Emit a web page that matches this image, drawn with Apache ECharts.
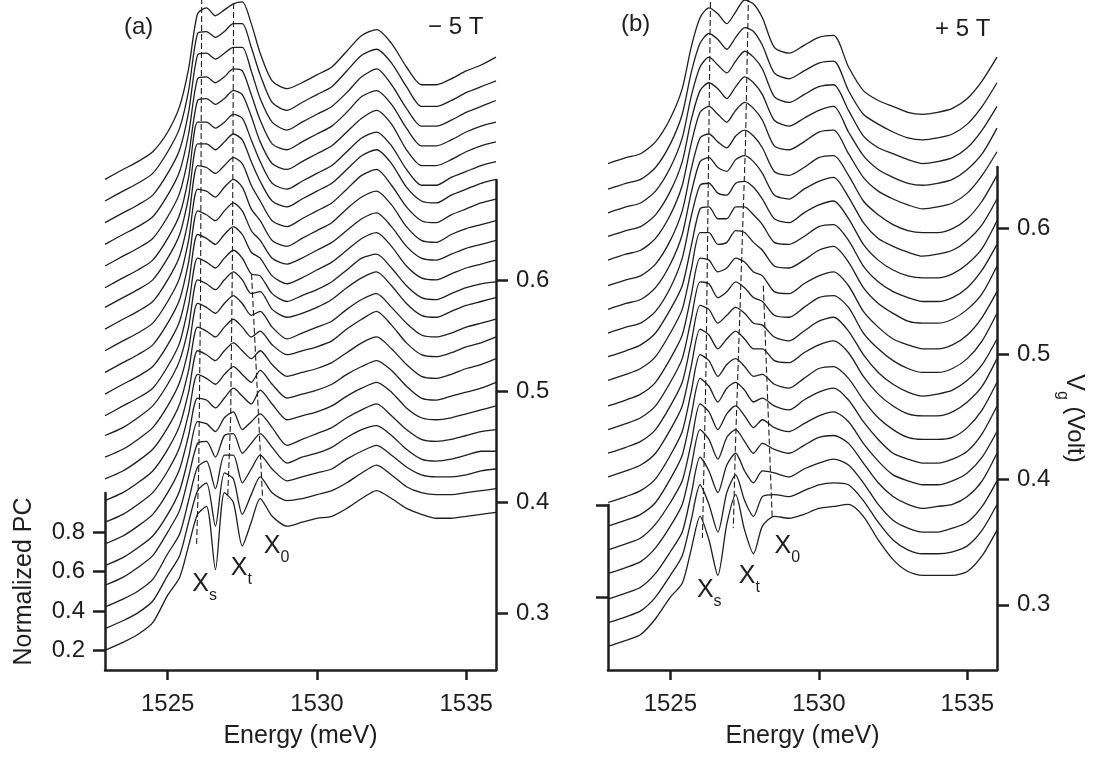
<!DOCTYPE html>
<html>
<head>
<meta charset="utf-8">
<script src="https://cdn.jsdelivr.net/npm/echarts@6/dist/echarts.min.js"></script>
<style>
  html, body { margin: 0; padding: 0; background: #fff; }
  #chart { width: 1111px; height: 758px; }
</style>
</head>
<body>
<div id="chart"></div>
<script>
// energy grid (meV) used for every spectrum
const energy = [1522.9, 1523.5, 1524, 1524.5, 1525, 1525.4, 1525.7, 1526.0, 1526.3, 1526.6, 1526.9, 1527.2, 1527.5, 1527.8, 1528.1, 1528.5, 1529, 1529.5, 1530, 1530.5, 1531, 1531.5, 1532, 1532.5, 1533, 1533.5, 1534, 1534.5, 1535, 1535.5, 1536];

const energyTicks = [1525, 1530, 1535];
const pcTicks = [0.2, 0.4, 0.6, 0.8];
const vgTicks = [0.3, 0.4, 0.5, 0.6];
const pcTicksB = [0.5, 1.0];

// waterfall offsets (normalized PC), bottom curve first
const offsetsA = [0, 0.11, 0.22, 0.33, 0.43, 0.54, 0.65, 0.76, 0.87, 0.98, 1.09, 1.19, 1.30, 1.41, 1.52, 1.63, 1.74, 1.84, 1.95, 2.06, 2.17, 2.28, 2.39];
const offsetsB = [0, 0.12, 0.24, 0.37, 0.49, 0.61, 0.73, 0.86, 0.98, 1.10, 1.22, 1.35, 1.47, 1.59, 1.71, 1.83, 1.96, 2.08, 2.20, 2.32, 2.45];

// panel (a), -5 T : normalized PC spectra
const curvesA = [
  [0.20,0.24,0.28,0.34,0.48,0.57,0.73, 0.89,0.93,0.61,1.00,0.95,0.73,0.85,0.97,0.88, 0.83,0.85,0.87,0.88,0.92,0.97,1.01,0.97,0.92,0.89,0.87,0.87,0.88,0.89,0.90],
  [0.20,0.24,0.28,0.34,0.47,0.57,0.74, 0.90,0.94,0.72,0.99,0.96,0.78,0.88,0.97,0.89, 0.85,0.86,0.88,0.90,0.94,0.99,1.03,0.98,0.92,0.89,0.88,0.88,0.89,0.90,0.91],
  [0.20,0.24,0.28,0.34,0.47,0.57,0.74, 0.91,0.94,0.80,0.97,0.97,0.83,0.90,0.97,0.90, 0.84,0.86,0.88,0.90,0.95,0.99,1.02,0.97,0.91,0.87,0.86,0.86,0.87,0.89,0.90],
  [0.20,0.24,0.29,0.35,0.47,0.58,0.75, 0.92,0.93,0.85,0.96,0.97,0.87,0.92,0.97,0.90, 0.82,0.85,0.87,0.90,0.95,0.99,1.01,0.96,0.89,0.84,0.83,0.84,0.86,0.88,0.88],
  [0.20,0.24,0.29,0.35,0.46,0.58,0.75, 0.93,0.92,0.88,0.95,0.98,0.89,0.93,0.97,0.90, 0.81,0.84,0.87,0.90,0.95,0.99,1.02,0.96,0.89,0.84,0.83,0.84,0.86,0.88,0.89],
  [0.20,0.24,0.29,0.35,0.46,0.58,0.75, 0.94,0.93,0.89,0.94,0.99,0.95,0.91,0.98,0.91, 0.83,0.85,0.87,0.90,0.95,0.99,1.02,0.97,0.89,0.84,0.83,0.84,0.86,0.88,0.90],
  [0.20,0.24,0.29,0.35,0.46,0.58,0.75, 0.95,0.93,0.90,0.95,0.99,0.95,0.91,0.97,0.90, 0.83,0.85,0.87,0.90,0.95,0.99,1.02,0.97,0.89,0.83,0.82,0.84,0.86,0.88,0.91],
  [0.20,0.24,0.29,0.35,0.46,0.58,0.75, 0.96,0.94,0.91,0.96,1.00,0.96,0.92,0.96,0.89, 0.83,0.85,0.87,0.90,0.95,1.00,1.03,0.97,0.89,0.83,0.82,0.84,0.87,0.89,0.92],
  [0.20,0.24,0.29,0.35,0.46,0.58,0.75, 0.97,0.95,0.92,0.97,1.01,0.97,0.92,0.95,0.88, 0.83,0.85,0.87,0.90,0.96,1.01,1.05,0.98,0.89,0.83,0.82,0.84,0.87,0.89,0.92],
  [0.20,0.24,0.29,0.35,0.46,0.58,0.75, 0.98,0.96,0.93,0.98,1.02,0.98,0.92,0.94,0.86, 0.80,0.83,0.86,0.89,0.95,1.00,1.03,0.96,0.88,0.82,0.81,0.83,0.86,0.88,0.90],
  [0.20,0.24,0.29,0.35,0.46,0.58,0.75, 0.99,0.97,0.94,0.99,1.03,0.99,0.92,0.93,0.84, 0.80,0.82,0.85,0.89,0.95,1.00,1.03,0.96,0.87,0.81,0.80,0.83,0.86,0.88,0.90],
  [0.20,0.25,0.29,0.34,0.45,0.57,0.76, 1.00,0.98,0.95,1.00,1.04,1.00,0.92,0.91,0.82, 0.78,0.81,0.84,0.88,0.94,1.00,1.02,0.95,0.86,0.80,0.79,0.82,0.85,0.87,0.88],
  [0.20,0.25,0.29,0.34,0.45,0.57,0.76, 1.01,0.99,0.96,1.01,1.05,1.01,0.92,0.89,0.80, 0.76,0.79,0.83,0.87,0.93,0.99,1.02,0.95,0.85,0.79,0.78,0.81,0.84,0.86,0.88],
  [0.20,0.25,0.29,0.34,0.45,0.57,0.76, 1.02,1.00,0.97,1.02,1.06,1.02,0.92,0.87,0.78, 0.75,0.78,0.82,0.86,0.92,0.98,1.01,0.94,0.84,0.78,0.77,0.80,0.83,0.85,0.87],
  [0.20,0.25,0.29,0.34,0.45,0.57,0.76, 1.02,1.01,0.98,1.03,1.07,1.03,0.92,0.86,0.76, 0.73,0.77,0.81,0.85,0.92,0.98,1.01,0.94,0.83,0.76,0.75,0.79,0.82,0.84,0.86],
  [0.20,0.25,0.29,0.34,0.45,0.57,0.76, 1.03,1.02,0.99,1.03,1.07,1.04,0.93,0.85,0.75, 0.72,0.76,0.80,0.84,0.91,0.98,1.01,0.93,0.82,0.75,0.74,0.78,0.81,0.84,0.86],
  [0.20,0.25,0.29,0.34,0.45,0.57,0.76, 1.03,1.03,1.00,1.04,1.08,1.05,0.94,0.84,0.74, 0.71,0.75,0.79,0.83,0.90,0.97,1.00,0.93,0.81,0.74,0.73,0.77,0.80,0.83,0.85],
  [0.20,0.25,0.29,0.34,0.45,0.57,0.76, 1.04,1.04,1.01,1.04,1.08,1.06,0.95,0.84,0.73, 0.70,0.74,0.78,0.82,0.89,0.96,0.99,0.92,0.80,0.72,0.72,0.76,0.79,0.82,0.84],
  [0.20,0.25,0.29,0.34,0.45,0.57,0.76, 1.04,1.05,1.02,1.05,1.09,1.07,0.96,0.83,0.72, 0.69,0.73,0.77,0.81,0.88,0.95,0.99,0.92,0.79,0.71,0.71,0.74,0.78,0.81,0.83],
  [0.20,0.25,0.29,0.34,0.45,0.57,0.76, 1.04,1.05,1.02,1.05,1.09,1.08,0.96,0.83,0.71, 0.68,0.72,0.76,0.80,0.87,0.95,0.98,0.91,0.79,0.70,0.70,0.73,0.77,0.80,0.82],
  [0.20,0.25,0.29,0.34,0.45,0.57,0.76, 1.05,1.06,1.03,1.06,1.09,1.09,0.97,0.83,0.71, 0.67,0.71,0.75,0.79,0.86,0.94,0.98,0.90,0.78,0.69,0.69,0.72,0.76,0.79,0.82],
  [0.20,0.25,0.29,0.34,0.45,0.57,0.76, 1.05,1.06,1.03,1.06,1.10,1.10,0.98,0.84,0.70, 0.66,0.70,0.74,0.78,0.86,0.94,0.97,0.90,0.78,0.68,0.68,0.71,0.75,0.78,0.81],
  [0.20,0.25,0.29,0.34,0.44,0.57,0.76, 1.04,1.07,1.03,1.06,1.09,1.10,0.99,0.84,0.70, 0.66,0.69,0.73,0.77,0.85,0.93,0.96,0.89,0.77,0.68,0.68,0.71,0.75,0.78,0.82]
];

// panel (b), +5 T
const curvesB = [
  [0.20,0.23,0.26,0.34,0.45,0.52,0.69, 0.86,0.74,0.56,0.82,0.97,0.79,0.67,0.81,0.86, 0.85,0.87,0.90,0.91, 0.92,0.86,0.74,0.64,0.58,0.56,0.56,0.56,0.58,0.66,0.79],
  [0.20,0.23,0.26,0.33,0.44,0.54,0.72, 0.90,0.80,0.66,0.86,0.95,0.82,0.74,0.84,0.85, 0.84,0.87,0.90,0.91, 0.90,0.82,0.71,0.62,0.57,0.55,0.55,0.56,0.59,0.67,0.80],
  [0.20,0.23,0.26,0.33,0.44,0.54,0.73, 0.92,0.85,0.74,0.88,0.94,0.85,0.79,0.85,0.84, 0.82,0.86,0.89,0.91, 0.88,0.79,0.68,0.60,0.56,0.54,0.54,0.56,0.59,0.67,0.80],
  [0.20,0.23,0.26,0.33,0.44,0.55,0.74, 0.93,0.88,0.78,0.89,0.93,0.87,0.81,0.86,0.83, 0.81,0.85,0.89,0.90, 0.86,0.76,0.66,0.59,0.55,0.53,0.54,0.55,0.59,0.67,0.81],
  [0.20,0.23,0.26,0.33,0.44,0.55,0.74, 0.94,0.90,0.81,0.89,0.93,0.88,0.82,0.86,0.82, 0.80,0.84,0.88,0.90, 0.85,0.74,0.65,0.58,0.55,0.53,0.53,0.55,0.59,0.67,0.80],
  [0.20,0.23,0.26,0.32,0.44,0.56,0.76, 0.95,0.91,0.83,0.90,0.93,0.89,0.83,0.85,0.81, 0.79,0.84,0.88,0.90, 0.84,0.73,0.64,0.57,0.54,0.52,0.52,0.54,0.58,0.67,0.81],
  [0.20,0.23,0.26,0.32,0.44,0.56,0.76, 0.95,0.92,0.84,0.90,0.93,0.89,0.84,0.85,0.80, 0.78,0.83,0.88,0.89, 0.83,0.72,0.63,0.57,0.53,0.52,0.52,0.53,0.58,0.67,0.81],
  [0.20,0.23,0.26,0.32,0.44,0.56,0.76, 0.95,0.92,0.85,0.90,0.94,0.90,0.85,0.85,0.79, 0.78,0.83,0.87,0.89, 0.83,0.71,0.62,0.56,0.52,0.51,0.51,0.53,0.58,0.66,0.80],
  [0.20,0.23,0.26,0.32,0.44,0.56,0.76, 0.95,0.93,0.86,0.90,0.94,0.91,0.86,0.85,0.79, 0.77,0.82,0.87,0.89, 0.82,0.70,0.61,0.55,0.51,0.49,0.50,0.52,0.57,0.65,0.78],
  [0.20,0.23,0.26,0.32,0.44,0.56,0.76, 0.95,0.94,0.87,0.90,0.95,0.92,0.87,0.85,0.78, 0.77,0.82,0.87,0.88, 0.82,0.69,0.61,0.55,0.51,0.49,0.49,0.51,0.56,0.65,0.79],
  [0.20,0.23,0.26,0.32,0.44,0.56,0.76, 0.95,0.94,0.88,0.90,0.95,0.93,0.88,0.86,0.78, 0.77,0.82,0.86,0.88, 0.81,0.68,0.60,0.54,0.51,0.49,0.49,0.51,0.56,0.65,0.78],
  [0.20,0.23,0.26,0.32,0.44,0.56,0.76, 0.95,0.95,0.89,0.90,0.96,0.95,0.90,0.86,0.78, 0.77,0.81,0.86,0.88, 0.80,0.67,0.59,0.54,0.50,0.49,0.49,0.51,0.56,0.64,0.78],
  [0.20,0.23,0.26,0.32,0.44,0.56,0.76, 0.95,0.96,0.90,0.90,0.96,0.96,0.92,0.87,0.78, 0.77,0.81,0.86,0.87, 0.79,0.66,0.58,0.53,0.50,0.48,0.48,0.50,0.55,0.64,0.77],
  [0.20,0.23,0.25,0.31,0.43,0.58,0.79, 0.95,0.96,0.91,0.90,0.96,0.97,0.94,0.88,0.78, 0.76,0.81,0.85,0.87, 0.78,0.65,0.57,0.52,0.49,0.48,0.48,0.50,0.55,0.63,0.77],
  [0.20,0.23,0.25,0.31,0.43,0.58,0.79, 0.95,0.97,0.92,0.90,0.96,0.98,0.95,0.89,0.78, 0.76,0.81,0.85,0.87, 0.77,0.64,0.56,0.52,0.49,0.47,0.48,0.50,0.55,0.63,0.76],
  [0.20,0.23,0.25,0.31,0.43,0.58,0.79, 0.95,0.97,0.93,0.90,0.96,0.99,0.96,0.90,0.78, 0.76,0.80,0.85,0.86, 0.76,0.63,0.56,0.51,0.48,0.47,0.47,0.49,0.54,0.63,0.76],
  [0.20,0.23,0.25,0.31,0.43,0.58,0.79, 0.95,0.98,0.94,0.90,0.96,1.00,0.97,0.91,0.78, 0.76,0.80,0.85,0.86, 0.74,0.62,0.55,0.51,0.48,0.46,0.47,0.49,0.54,0.63,0.75],
  [0.20,0.23,0.25,0.31,0.43,0.58,0.79, 0.94,0.98,0.95,0.90,0.96,1.01,0.98,0.92,0.79, 0.76,0.80,0.84,0.86, 0.73,0.61,0.54,0.50,0.47,0.46,0.47,0.49,0.54,0.62,0.75],
  [0.20,0.23,0.25,0.31,0.43,0.58,0.79, 0.94,0.99,0.95,0.91,0.97,1.02,0.99,0.93,0.79, 0.76,0.80,0.84,0.85, 0.72,0.59,0.53,0.50,0.47,0.45,0.46,0.48,0.53,0.62,0.74],
  [0.20,0.23,0.25,0.31,0.43,0.58,0.79, 0.94,0.99,0.96,0.91,0.97,1.02,1.00,0.93,0.79, 0.76,0.80,0.84,0.85, 0.70,0.58,0.53,0.49,0.46,0.45,0.46,0.48,0.53,0.62,0.74],
  [0.20,0.23,0.25,0.31,0.43,0.58,0.79, 0.94,0.99,0.96,0.91,0.97,1.03,1.01,0.94,0.79, 0.76,0.80,0.84,0.85, 0.69,0.57,0.52,0.49,0.46,0.45,0.46,0.48,0.53,0.62,0.74]
];

// dashed guide lines (energy, plotted value)
const dashAsE = [1526.14, 1526.10, 1526.04, 1525.97];
const dashAsV = [3.51, 1.99, 1.12, 0.74];
const dashAtE = [1527.21, 1527.17, 1527.11, 1527.01];
const dashAtV = [3.53, 2.20, 1.38, 0.97];
const dashA0E = [1527.81, 1528.18];
const dashA0V = [2.11, 0.97];
const dashBsE = [1526.35, 1526.20, 1526.08];
const dashBsV = [3.47, 1.60, 0.75];
const dashBtE = [1527.63, 1527.53, 1527.36, 1527.19, 1527.12];
const dashBtV = [3.50, 2.75, 1.98, 1.21, 0.80];
const dashB0E = [1528.13, 1528.43];
const dashB0V = [2.03, 0.85];

// peak labels X_s, X_t, X_0
const peakSubs = ['s', 't', '0'];
const peakAE = [1526.24, 1527.47, 1528.65];
const peakAV = [0.52, 0.60, 0.71];
const peakBE = [1526.31, 1527.66, 1528.94];
const peakBV = [0.47, 0.54, 0.69];

const ink = '#1e1e1e';
const font = '"Liberation Sans", Arial, sans-serif';

const chart = echarts.init(document.getElementById('chart'));

const zip = (xs, ys) => xs.map((x, k) => [x, ys[k]]);

function hiddenX(gridIndex) {
  return { type: 'value', gridIndex: gridIndex, min: 1522.9, max: 1536, show: false };
}

function energyAxis(gridIndex) {
  return {
    type: 'value', gridIndex: gridIndex, min: 1522.9, max: 1536,
    axisLine: { show: true, onZero: false, lineStyle: { color: ink, width: 2.5 } },
    axisTick: { show: true, customValues: energyTicks, length: 10, lineStyle: { color: ink, width: 2.5 } },
    axisLabel: { customValues: energyTicks, fontSize: 24, color: ink, margin: 22, fontFamily: font,
      formatter: v => String(v) },
    splitLine: { show: false },
    name: 'Energy (meV)', nameLocation: 'middle', nameGap: 54,
    nameTextStyle: { fontSize: 25, color: ink, fontFamily: font }
  };
}

function sideAxis(gridIndex, pos, min, max, ticks, showLabels) {
  return {
    type: 'value', gridIndex: gridIndex, position: pos, min: min, max: max,
    axisLine: { show: true, onZero: false, lineStyle: { color: ink, width: 2.5 } },
    axisTick: { show: true, customValues: ticks, length: 12, lineStyle: { color: ink, width: 2.5 } },
    axisLabel: {
      show: showLabels, customValues: ticks, fontSize: 24, color: ink, margin: 20, fontFamily: font,
      formatter: v => v.toFixed(1)
    },
    splitLine: { show: false }
  };
}

const series = [];

curvesA.forEach((c, i) => {
  series.push({
    type: 'line', xAxisIndex: 0, yAxisIndex: 0,
    data: energy.map((e, k) => [e, c[k] + offsetsA[i]]),
    showSymbol: false, smooth: 0.25, silent: true,
    lineStyle: { color: ink, width: 1.3 }
  });
});
curvesB.forEach((c, i) => {
  series.push({
    type: 'line', xAxisIndex: 3, yAxisIndex: 3,
    data: energy.map((e, k) => [e, c[k] + offsetsB[i]]),
    showSymbol: false, smooth: 0.25, silent: true,
    lineStyle: { color: ink, width: 1.3 }
  });
});

[[dashAsE, dashAsV, 0], [dashAtE, dashAtV, 0], [dashA0E, dashA0V, 0],
 [dashBsE, dashBsV, 3], [dashBtE, dashBtV, 3], [dashB0E, dashB0V, 3]].forEach(d => {
  series.push({
    type: 'line', xAxisIndex: d[2], yAxisIndex: d[2],
    data: zip(d[0], d[1]), showSymbol: false, silent: true,
    lineStyle: { color: ink, width: 1.1, type: [6, 3] }
  });
});

const peakLabel = {
  show: true, position: 'inside', color: ink, fontFamily: font,
  formatter: p => '{x|X}{s|' + peakSubs[p.dataIndex] + '}',
  rich: {
    x: { fontSize: 25, lineHeight: 32, verticalAlign: 'top', fontFamily: font, color: ink },
    s: { fontSize: 16, lineHeight: 12, verticalAlign: 'bottom', fontFamily: font, color: ink }
  }
};
series.push({ type: 'scatter', xAxisIndex: 0, yAxisIndex: 0, symbolSize: 0, silent: true,
  itemStyle: { opacity: 1 }, data: zip(peakAE, peakAV), label: peakLabel });
series.push({ type: 'scatter', xAxisIndex: 3, yAxisIndex: 3, symbolSize: 0, silent: true,
  itemStyle: { opacity: 1 }, data: zip(peakBE, peakBV), label: peakLabel });

const titleStyle = { fontSize: 24, fontWeight: 'normal', color: ink, fontFamily: font };

const vgAxis = sideAxis(5, 'right', 0.248, 0.649, vgTicks, true);
vgAxis.name = '{v|V}{g|g}{r| (Volt)}';
vgAxis.nameLocation = 'middle';
vgAxis.nameRotate = -90;
vgAxis.nameGap = 56;
vgAxis.nameTextStyle = {
  color: ink, fontFamily: font,
  rich: {
    v: { fontSize: 25, lineHeight: 32, verticalAlign: 'top', fontFamily: font, color: ink },
    g: { fontSize: 16, lineHeight: 12, verticalAlign: 'bottom', fontFamily: font, color: ink },
    r: { fontSize: 24, lineHeight: 32, verticalAlign: 'top', fontFamily: font, color: ink }
  }
};

const pcAxis = sideAxis(1, 'left', 0.1, 1.0, pcTicks, true);
pcAxis.name = 'Normalized PC';
pcAxis.nameLocation = 'middle';
pcAxis.nameRotate = 90;
pcAxis.nameGap = 68;
pcAxis.nameTextStyle = { fontSize: 25, color: ink, fontFamily: font };

const option = {
  animation: false,
  backgroundColor: '#fff',
  title: [
    { text: '(a)', left: 124, top: 15, padding: 0, textStyle: titleStyle },
    { text: '\u2212 5 T', left: 428, top: 15, padding: 0, textStyle: titleStyle },
    { text: '(b)', left: 621, top: 12, padding: 0, textStyle: titleStyle },
    { text: '+ 5 T', left: 935, top: 17, padding: 0, textStyle: titleStyle }
  ],
  grid: [
    { left: 105, width: 391, top: 0, height: 670 },
    { left: 105, width: 391, top: 493, height: 177 },
    { left: 105, width: 391, top: 180, height: 490 },
    { left: 608, width: 389, top: 0, height: 670 },
    { left: 608, width: 389, top: 505, height: 165 },
    { left: 608, width: 389, top: 167, height: 503 }
  ],
  xAxis: [energyAxis(0), hiddenX(1), hiddenX(2), energyAxis(3), hiddenX(4), hiddenX(5)],
  yAxis: [
    { type: 'value', gridIndex: 0, min: 0.1, max: 3.5, show: false },
    pcAxis,
    sideAxis(2, 'right', 0.249, 0.690, vgTicks, true),
    { type: 'value', gridIndex: 3, min: 0.08, max: 3.48, show: false },
    sideAxis(4, 'left', 0.11, 1.0, pcTicksB, false),
    vgAxis
  ],
  series: series
};

chart.setOption(option);
</script>
</body>
</html>
